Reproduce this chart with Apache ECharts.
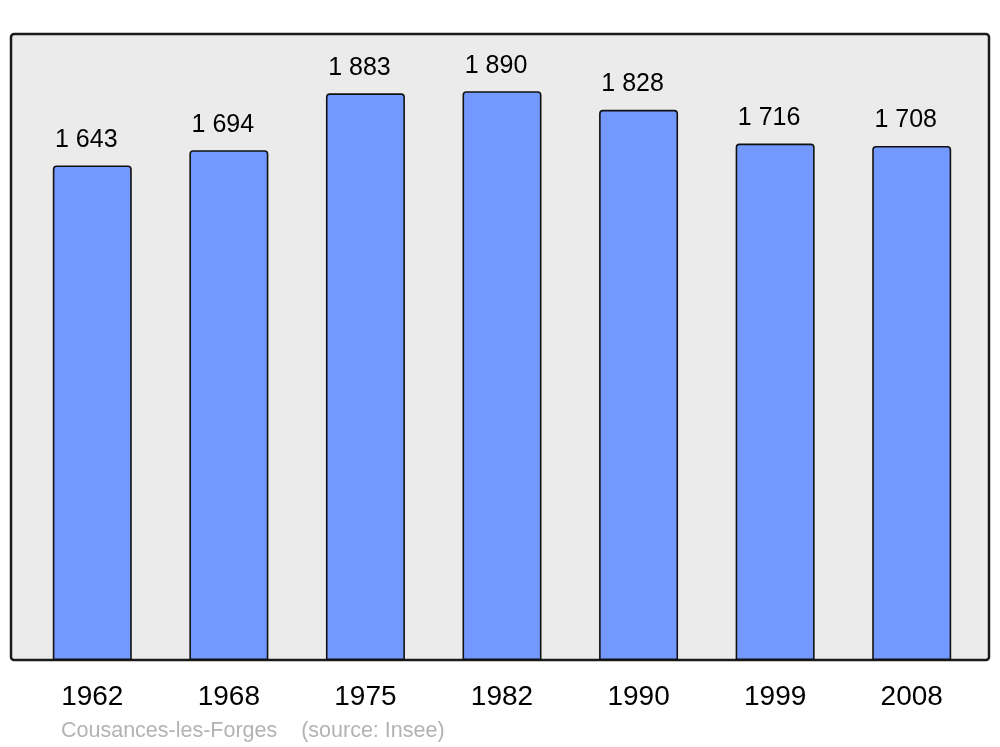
<!DOCTYPE html>
<html>
<head>
<meta charset="utf-8">
<script src="https://cdn.jsdelivr.net/npm/echarts@6/dist/echarts.min.js"></script>
<style>html,body{margin:0;padding:0;background:#fff}#c{width:1000px;height:747px}</style>
</head>
<body>
<div id="c"></div>
<script>
var years = ['1962', '1968', '1975', '1982', '1990', '1999', '2008'];
var population = [1643, 1694, 1883, 1890, 1828, 1716, 1708];
var footerText = 'Cousances-les-Forges    (source: Insee)';

var chart = echarts.init(document.getElementById('c'));
var font = '"Liberation Sans", Arial, sans-serif';
chart.setOption({
  animation: false,
  backgroundColor: '#ffffff',
  title: {
    text: footerText,
    left: 56, top: 715,
    textStyle: { fontFamily: font, fontSize: 21.5, fontWeight: 'normal', color: '#b3b3b3' }
  },
  graphic: [{
    type: 'rect', z: 0,
    shape: { x: 11, y: 34, width: 978, height: 626, r: 3 },
    style: { fill: '#ebebeb', stroke: '#1a1a1a', lineWidth: 2.5 }
  }],
  grid: { left: 24, right: 20, top: 34, bottom: 87 },
  xAxis: {
    type: 'category', data: years,
    axisLine: { show: false }, axisTick: { show: false },
    axisLabel: { fontFamily: font, fontSize: 28, color: '#000', margin: 23 }
  },
  yAxis: {
    type: 'value', min: 0, max: 2080,
    show: false, splitLine: { show: false }
  },
  series: [{
    type: 'bar', z: 5, data: population, barWidth: 79,
    itemStyle: { color: '#7399ff', borderColor: '#111', borderWidth: 1.6, borderRadius: [3, 3, 0, 0] },
    label: {
      show: true, position: 'top', distance: 13, offset: [-6, 0],
      fontFamily: font, fontSize: 25, color: '#000',
      formatter: function (p) { return String(p.value).replace(/\B(?=(\d{3})+(?!\d))/g, ' '); }
    }
  }]
});
</script>
</body>
</html>
